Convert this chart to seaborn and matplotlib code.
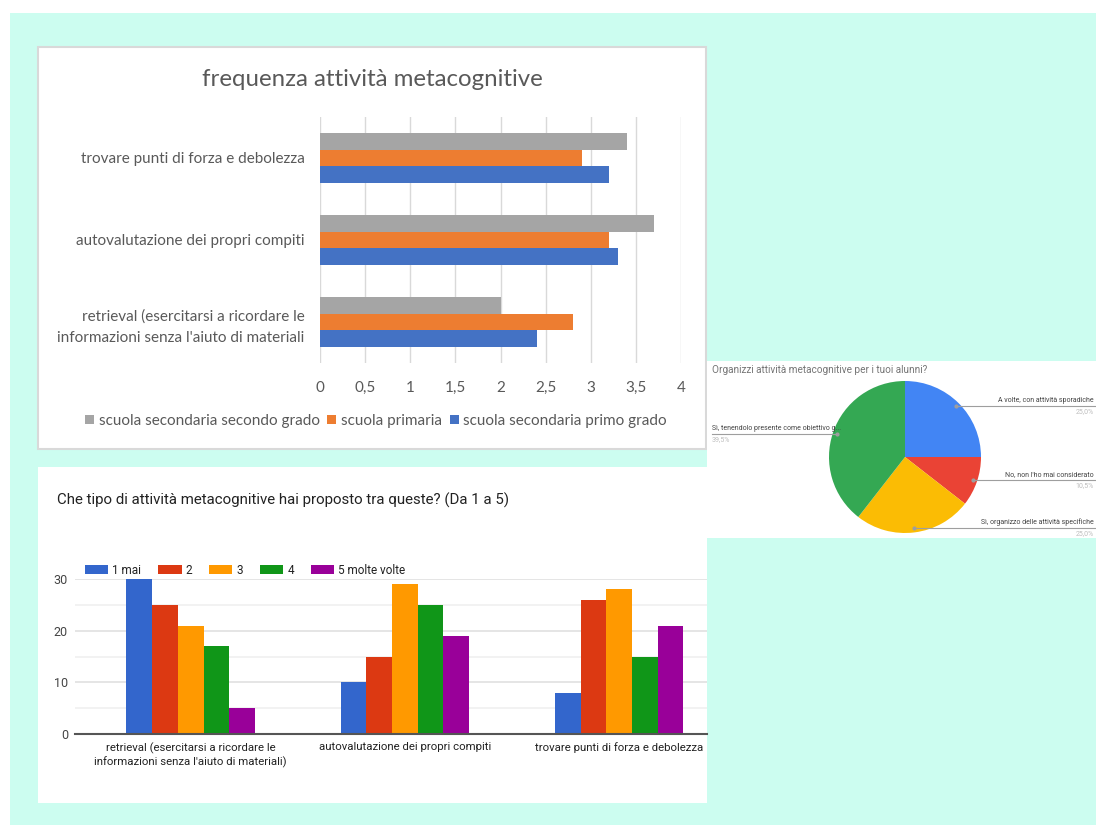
import numpy as np
import pandas as pd
import matplotlib
matplotlib.use("Agg")
import matplotlib.pyplot as plt
from matplotlib.patches import Rectangle
import seaborn as sns

# ---------------- data ----------------
# top chart (horizontal bars)
freq_categories = ["trovare punti di forza e debolezza",
                   "autovalutazione dei propri compiti",
                   "retrieval (esercitarsi a ricordare le\ninformazioni senza l'aiuto di materiali"]
freq_series = ["scuola secondaria secondo grado", "scuola primaria", "scuola secondaria primo grado"]
freq_secondo = [3.4, 3.7, 2.0]
freq_primaria = [2.9, 3.2, 2.8]
freq_primo = [3.2, 3.3, 2.4]
freq_ticks = [0, 0.5, 1, 1.5, 2, 2.5, 3, 3.5, 4]
freq_tick_labels = ["0", "0,5", "1", "1,5", "2", "2,5", "3", "3,5", "4"]

# bottom chart (vertical bars)
tipo_categories = ["retrieval (esercitarsi a ricordare le\ninformazioni senza l'aiuto di materiali)",
                   "autovalutazione dei propri compiti",
                   "trovare punti di forza e debolezza"]
tipo_levels = ["1 mai", "2", "3", "4", "5 molte volte"]
tipo_1 = [30, 10, 8]
tipo_2 = [25, 15, 26]
tipo_3 = [21, 29, 28]
tipo_4 = [17, 25, 15]
tipo_5 = [5, 19, 21]

# pie chart
pie_labels = ["A volte, con attività sporadiche",
              "No, non l'ho mai considerato",
              "Sì, organizzo delle attività specifiche",
              "Sì, tenendolo presente come obiettivo g..."]
pie_counts = [19, 8, 19, 30]

# ---------------- figure ----------------
W, H = 1096, 825
fig = plt.figure(figsize=(W / 100, H / 100), dpi=100)
fig.patch.set_facecolor("white")


def box(x0, y0, x1, y1):
    return [x0 / W, 1 - y1 / H, (x1 - x0) / W, (y1 - y0) / H]


def frect(x0, y0, x1, y1, **kw):
    fig.patches.append(Rectangle((x0 / W, 1 - y1 / H), (x1 - x0) / W, (y1 - y0) / H,
                                 transform=fig.transFigure, figure=fig, **kw))


MINT = "#CCFDF0"
frect(10, 13, W, H, facecolor=MINT, edgecolor="none", zorder=-3)
frect(38, 47, 706, 449, facecolor="white", edgecolor="#D9D9D9", linewidth=1.5, zorder=-2)
frect(38, 467, 707, 803, facecolor="white", edgecolor="none", zorder=-2)

# ---------------- top chart ----------------
EX_FONT = "Lato"
GREY_TXT = "#595959"
df_top = pd.DataFrame({
    "categoria": freq_categories * 3,
    "serie": [s for s in freq_series for _ in freq_categories],
    "valore": freq_secondo + freq_primaria + freq_primo,
})
ax1 = fig.add_axes(box(320, 117, 681, 363))
sns.barplot(data=df_top, y="categoria", x="valore", hue="serie", order=freq_categories,
            hue_order=freq_series, palette=["#A5A5A5", "#ED7D31", "#4472C4"],
            orient="h", width=0.6, ax=ax1, zorder=3, saturation=1)
ax1.set_xlim(0, 4)
ax1.set_ylim(2.5, -0.5)
ax1.set_xticks(freq_ticks)
ax1.set_xticklabels(freq_tick_labels, fontsize=11, color=GREY_TXT, family=EX_FONT)
ax1.set_yticks(range(len(freq_categories)))
ax1.set_yticklabels(freq_categories, fontsize=11, color=GREY_TXT, family=EX_FONT,
                    linespacing=1.65)
ax1.tick_params(axis="both", length=0)
ax1.tick_params(axis="x", pad=13)
ax1.tick_params(axis="y", pad=11)
ax1.grid(axis="x", color="#D9D9D9", linewidth=1)
ax1.set_axisbelow(True)
for s in ax1.spines.values():
    s.set_visible(False)
ax1.set_xlabel("")
ax1.set_ylabel("")
ax1.patch.set_alpha(0)
sns.move_legend(ax1, loc="center", bbox_to_anchor=(376 / W, 1 - 421 / H),
                bbox_transform=fig.transFigure, ncol=3, frameon=False, title=None,
                handlelength=0.6, handleheight=0.6, handletextpad=0.3, columnspacing=0.5,
                prop={"family": EX_FONT, "size": 11})
for t in ax1.get_legend().get_texts():
    t.set_color(GREY_TXT)
fig.text(372 / W, 1 - 80 / H, "frequenza attività metacognitive", ha="center", va="center",
         fontsize=17.3, color=GREY_TXT, family=EX_FONT)

# ---------------- bottom chart ----------------
G_FONT = "Roboto"
df_bot = pd.DataFrame({
    "categoria": tipo_categories * 5,
    "livello": [l for l in tipo_levels for _ in tipo_categories],
    "valore": tipo_1 + tipo_2 + tipo_3 + tipo_4 + tipo_5,
})
ax2 = fig.add_axes(box(75, 579, 707, 734))
sns.barplot(data=df_bot, x="categoria", y="valore", hue="livello", order=tipo_categories,
            hue_order=tipo_levels,
            palette=["#3366CC", "#DC3912", "#FF9900", "#109618", "#990099"],
            width=0.6, ax=ax2, zorder=3, saturation=1)
ax2.set_xlim(-0.54, 2.41)
ax2.set_ylim(0, 30)
ax2.set_yticks([0, 10, 20, 30])
ax2.set_yticks([5, 15, 25], minor=True)
ax2.set_yticklabels(["0", "10", "20", "30"], fontsize=9, color="#444444", family=G_FONT)
ax2.set_xticks(range(len(tipo_categories)))
ax2.set_xticklabels(tipo_categories, fontsize=8.2, color="#222222", family=G_FONT,
                    linespacing=1.35)
ax2.tick_params(axis="both", which="both", length=0)
ax2.tick_params(axis="y", pad=5)
ax2.tick_params(axis="x", pad=6)
ax2.grid(axis="y", which="major", color="#E0E0E0", linewidth=1.2)
ax2.grid(axis="y", which="minor", color="#F0F0F0", linewidth=1.2)
ax2.set_axisbelow(True)
for s in ax2.spines.values():
    s.set_visible(False)
ax2.axhline(0, color="#555555", linewidth=1.5, zorder=4, clip_on=False)
ax2.set_xlabel("")
ax2.set_ylabel("")
ax2.patch.set_alpha(0)
sns.move_legend(ax2, loc="center left", bbox_to_anchor=(74 / W, 1 - 570 / H),
                bbox_transform=fig.transFigure, ncol=5, frameon=False, title=None,
                handlelength=2.0, handleheight=0.9, handletextpad=0.35, columnspacing=1.4,
                prop={"family": G_FONT, "size": 8.5})
for t in ax2.get_legend().get_texts():
    t.set_color("#222222")
fig.text(57 / W, 1 - 500 / H, "Che tipo di attività metacognitive hai proposto tra queste? (Da 1 a 5)",
         ha="left", va="center", fontsize=10.8, color="#222222", family=G_FONT)

# ---------------- pie chart ----------------
px0, py0, px1, py1 = 707, 361, W, 538
pw, ph = px1 - px0, py1 - py0
ax3 = fig.add_axes(box(px0, py0, px1, py1))
ax3.set_facecolor("white")
cx, cy, r = 905 - px0, py1 - 457, 76
wedges, _ = ax3.pie(pie_counts, colors=["#4285F4", "#EA4335", "#FBBC04", "#34A853"],
                    startangle=90, counterclock=False, center=(cx, cy), radius=r,
                    frame=True, wedgeprops={"linewidth": 0})
ax3.set_xlim(0, pw)
ax3.set_ylim(0, ph)
ax3.set_aspect("auto")
ax3.set_xticks([])
ax3.set_yticks([])
for s in ax3.spines.values():
    s.set_visible(False)
total = sum(pie_counts)
for w, lab, cnt in zip(wedges, pie_labels, pie_counts):
    ang = np.deg2rad((w.theta1 + w.theta2) / 2)
    dx, dy = cx + 0.94 * r * np.cos(ang), cy + 0.94 * r * np.sin(ang)
    pct = f"{cnt / total * 100:.1f}%".replace(".", ",")
    if np.cos(ang) >= 0:
        xe = pw - 2
        ax3.plot([dx, pw], [dy, dy], color="#9E9E9E", linewidth=0.8, zorder=5)
        ax3.plot([dx], [dy], "o", color="#9E9E9E", markersize=2, zorder=6)
        ax3.text(xe, dy + 2, lab, ha="right", va="bottom", fontsize=5, color="#444444",
                 family=G_FONT)
        ax3.text(xe, dy - 2, pct, ha="right", va="top", fontsize=5, color="#BDBDBD",
                 family=G_FONT)
    else:
        xs = 5
        ax3.plot([xs, dx], [dy, dy], color="#9E9E9E", linewidth=0.8, zorder=5)
        ax3.plot([dx], [dy], "o", color="#9E9E9E", markersize=2, zorder=6)
        ax3.text(xs, dy + 2, lab, ha="left", va="bottom", fontsize=5, color="#444444",
                 family=G_FONT)
        ax3.text(xs, dy - 2, pct, ha="left", va="top", fontsize=5, color="#BDBDBD",
                 family=G_FONT)
ax3.text(5, ph - 9, "Organizzi attività metacognitive per i tuoi alunni?", ha="left",
         va="center", fontsize=7.2, color="#757575", family=G_FONT)

fig.savefig("out.png", dpi=100, facecolor=fig.get_facecolor())
